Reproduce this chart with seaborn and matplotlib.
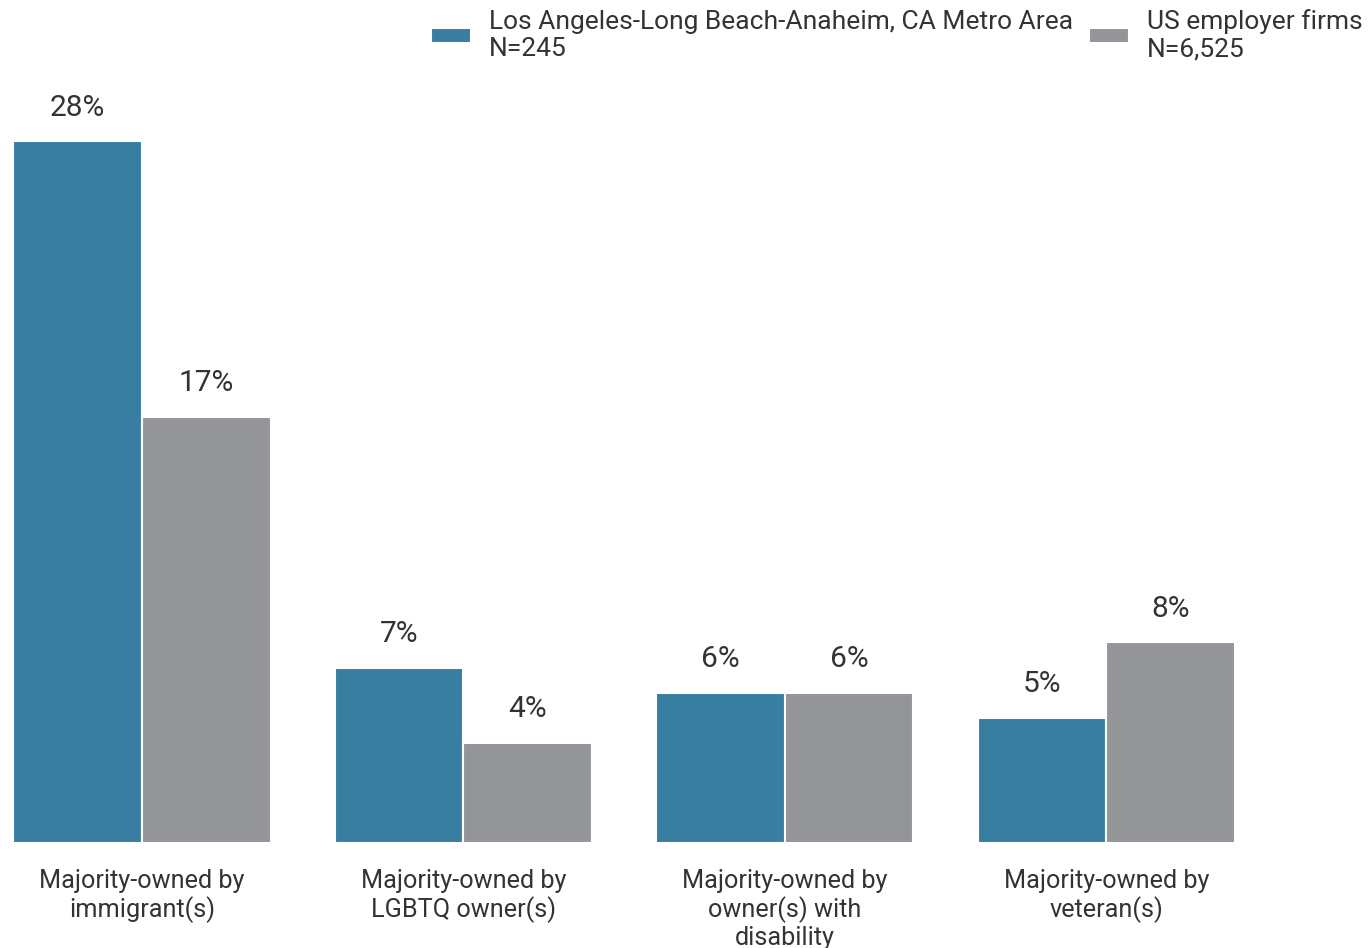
import matplotlib
matplotlib.use("Agg")
import matplotlib.pyplot as plt
import seaborn as sns
import pandas as pd

# ── Data ──────────────────────────────────────────────
categories = [
    "Majority-owned by\nimmigrant(s)",
    "Majority-owned by\nLGBTQ owner(s)",
    "Majority-owned by\nowner(s) with\ndisability",
    "Majority-owned by\nveteran(s)",
]
series_names = [
    "Los Angeles-Long Beach-Anaheim, CA Metro Area\nN=245",
    "US employer firms\nN=6,525",
]
la_values = [28, 7, 6, 5]
us_values = [17, 4, 6, 8]

colors = ["#387ea0", "#949599"]
text_color = "#333333"

df = pd.DataFrame({
    "category": categories * 2,
    "series": [series_names[0]] * 4 + [series_names[1]] * 4,
    "value": la_values + us_values,
})

# ── Style ─────────────────────────────────────────────
sns.set_theme(style="white")
plt.rcParams["font.family"] = ["Roboto", "DejaVu Sans"]

fig = plt.figure(figsize=(13.7, 9.48), dpi=100)
ax = fig.add_axes([13.4 / 1370, 105 / 948, 1350 / 1370, (843 - 91) / 948])

sns.barplot(data=df, x="category", y="value", hue="series",
            palette=colors, width=0.8, saturation=1,
            edgecolor="white", linewidth=1.5, ax=ax)

for cont in ax.containers:
    ax.bar_label(cont, labels=[f"{v:.0f}%" for v in cont.datavalues],
                 padding=14, fontsize=21.5, color=text_color)

ax.set_xlim(-0.4, 3.8)
ax.set_ylim(0, 30)
ax.set_xlabel("")
ax.set_ylabel("")
ax.set_yticks([])
ax.tick_params(axis="x", length=0, pad=19, labelsize=18.2, labelcolor=text_color)
for lbl in ax.get_xticklabels():
    lbl.set_linespacing(1.15)
sns.despine(ax=ax, left=True, bottom=True)

leg = ax.legend(loc="upper right", bbox_to_anchor=(1.0075, 1.123), ncol=2,
                frameon=False, fontsize=19, handlelength=1.5, handleheight=0.45,
                handletextpad=0.7, columnspacing=0.6, labelcolor=text_color,
                borderaxespad=0)
for t in leg.get_texts():
    t.set_linespacing(1.2)

fig.savefig("out.png", dpi=100)
